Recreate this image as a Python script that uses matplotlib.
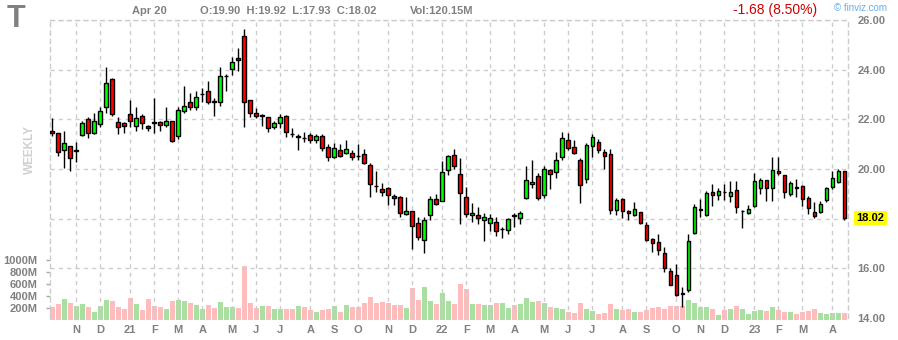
import matplotlib.pyplot as plt
import numpy as np

plt.rcParams['font.family'] = ['Liberation Sans', 'DejaVu Sans']

# weekly OHLC for T, Oct 2020 - Apr 2023
opens = [21.55, 21.43, 20.75, 20.91, 20.74, 21.35, 22.03, 21.45, 21.83, 22.51,
         23.63, 21.91, 21.87, 22.23, 21.75, 22.15, 21.75, 21.89, 21.91, 21.79,
         21.95, 21.31, 22.35, 22.71, 22.51, 23.01, 23.16, 22.72, 22.71, 23.74,
         24.03, 24.45, 25.35, 22.76, 22.27, 22.15, 22.11, 21.71, 21.87, 22.15,
         21.42, 21.29, 21.26, 21.35, 21.15, 21.32, 20.90, 20.50, 20.78, 20.66,
         20.66, 20.53, 20.62, 20.17, 19.33, 19.21, 19.25, 18.91, 18.89, 18.20,
         18.32, 17.84, 17.16, 18.16, 18.81, 18.72, 19.96, 20.58, 19.81, 18.89,
         18.16, 18.16, 17.96, 17.84, 17.88, 17.57, 17.56, 18.13, 18.04, 18.82,
         19.41, 19.73, 18.97, 19.97, 19.89, 20.50, 21.18, 20.90, 20.38, 19.61,
         20.94, 21.10, 20.70, 20.62, 18.36, 18.81, 18.32, 18.16, 18.28, 17.76,
         17.19, 17.07, 16.63, 15.91, 15.74, 14.99, 15.14, 17.42, 18.34, 18.16,
         19.09, 18.97, 19.09, 18.93, 19.17, 18.30, 18.24, 18.52, 19.25, 19.57,
         19.25, 19.93, 19.77, 19.01, 19.26, 19.33, 18.85, 18.28, 18.28, 18.76,
         19.29, 19.49, 19.90]
highs = [22.07, 21.43, 21.55, 20.91, 21.07, 21.93, 22.11, 22.27, 22.51, 24.12,
         23.68, 22.11, 21.91, 22.76, 22.51, 22.23, 21.79, 22.84, 21.95, 22.51,
         21.95, 22.51, 23.36, 23.08, 23.16, 23.28, 23.56, 22.84, 24.12, 23.84,
         24.51, 24.88, 25.63, 22.76, 22.44, 22.20, 22.11, 21.95, 22.23, 22.19,
         21.67, 21.39, 21.47, 21.43, 21.39, 21.40, 20.99, 21.06, 20.99, 21.15,
         20.77, 20.99, 20.79, 20.26, 19.91, 19.42, 19.29, 19.01, 18.91, 18.89,
         18.32, 18.08, 18.08, 18.91, 19.01, 20.31, 20.58, 20.79, 20.44, 19.29,
         18.64, 18.48, 18.24, 18.20, 18.08, 17.66, 18.04, 18.24, 18.32, 20.11,
         20.35, 19.85, 20.13, 20.01, 20.67, 21.50, 21.46, 21.18, 20.46, 21.06,
         21.41, 21.22, 20.82, 20.82, 18.85, 18.85, 18.36, 18.68, 18.28, 17.88,
         17.23, 17.40, 16.87, 16.03, 16.19, 15.26, 17.40, 18.60, 18.81, 19.13,
         19.41, 19.25, 19.41, 19.53, 19.53, 18.33, 18.56, 19.84, 19.65, 19.57,
         20.50, 20.50, 19.77, 19.53, 19.61, 19.37, 18.93, 18.68, 18.72, 19.29,
         19.93, 20.01, 19.92]
lows = [21.33, 20.51, 20.05, 19.93, 20.29, 21.31, 21.25, 21.41, 21.71, 22.24,
        22.13, 21.41, 21.45, 21.71, 21.55, 21.63, 21.55, 21.43, 21.55, 21.71,
        21.10, 21.19, 22.27, 22.37, 22.39, 22.69, 22.63, 22.13, 22.55, 23.15,
        23.79, 23.95, 21.71, 22.09, 22.05, 21.73, 21.49, 21.63, 21.67, 21.27,
        21.27, 20.77, 21.07, 21.03, 21.03, 20.72, 20.32, 20.46, 20.50, 20.59,
        20.36, 20.36, 20.21, 18.87, 19.07, 18.91, 18.54, 18.55, 18.08, 18.16,
        16.77, 17.14, 16.60, 17.95, 18.56, 18.72, 19.76, 20.01, 17.77, 18.08,
        17.88, 17.79, 17.10, 17.50, 17.32, 17.22, 17.40, 17.68, 17.79, 18.78,
        19.25, 18.77, 18.85, 19.21, 19.65, 20.38, 20.78, 20.62, 18.64, 19.45,
        20.50, 20.66, 20.01, 18.20, 18.16, 18.01, 17.96, 18.12, 17.80, 17.11,
        16.67, 16.55, 15.87, 15.34, 14.90, 14.46, 15.06, 17.38, 18.08, 18.12,
        18.51, 18.77, 18.77, 18.68, 18.24, 17.64, 18.20, 18.48, 19.01, 18.72,
        18.72, 19.77, 18.82, 18.93, 18.89, 18.52, 18.20, 18.04, 18.24, 18.68,
        19.21, 19.45, 17.93]
closes = [21.43, 20.67, 21.03, 20.43, 20.76, 21.87, 21.43, 21.95, 22.35, 23.48,
          22.23, 21.71, 21.75, 21.95, 22.07, 21.87, 21.67, 21.87, 21.79, 21.95,
          21.11, 22.39, 22.55, 22.51, 22.91, 23.03, 22.71, 22.70, 23.75, 23.76,
          24.31, 24.39, 22.71, 22.27, 22.13, 22.17, 21.67, 21.87, 22.11, 21.51,
          21.40, 21.31, 21.24, 21.15, 21.31, 20.86, 20.50, 20.86, 20.52, 20.82,
          20.50, 20.51, 20.26, 19.41, 19.31, 19.09, 18.95, 18.83, 18.23, 18.32,
          17.72, 17.28, 17.96, 18.81, 18.61, 19.88, 20.54, 20.13, 19.03, 18.20,
          18.24, 18.04, 18.08, 18.04, 17.50, 17.59, 18.00, 18.11, 18.24, 19.54,
          19.49, 18.85, 20.01, 19.81, 20.38, 21.26, 20.86, 20.66, 19.37, 20.98,
          21.30, 20.78, 20.54, 18.36, 18.77, 18.32, 18.24, 18.40, 17.84, 17.15,
          17.03, 16.75, 16.03, 15.34, 14.94, 14.97, 17.11, 18.48, 18.38, 19.05,
          18.97, 19.13, 19.07, 19.09, 18.48, 18.32, 18.40, 19.53, 19.57, 19.25,
          19.97, 19.85, 19.09, 19.45, 19.24, 18.81, 18.44, 18.12, 18.60, 19.25,
          19.65, 19.93, 18.02]
volumes = [222, 272, 356, 289, 239, 272, 222, 139, 239, 339,
           322, 222, 189, 372, 272, 172, 356, 239, 222, 189,
           322, 339, 322, 289, 256, 189, 256, 206, 306, 222,
           222, 206, 906, 289, 206, 239, 239, 189, 189, 189,
           189, 239, 222, 172, 139, 172, 189, 239, 139, 256,
           222, 222, 289, 389, 289, 306, 289, 256, 256, 206,
           539, 339, 556, 322, 272, 456, 322, 272, 606, 522,
           272, 272, 256, 256, 289, 289, 206, 256, 272, 372,
           306, 322, 289, 222, 206, 189, 139, 122, 289, 189,
           156, 106, 122, 272, 189, 172, 189, 139, 139, 172,
           206, 222, 189, 239, 239, 239, 339, 289, 222, 222,
           189, 89, 172, 189, 239, 189, 106, 156, 172, 156,
           222, 172, 139, 139, 106, 139, 156, 189, 122, 106,
           122, 122, 120.15]

month_pos = [4, 8, 13, 17, 21, 25, 30, 34, 38, 43, 47, 51, 56, 60, 65,
             69, 73, 77, 82, 86, 90, 95, 99, 104, 108, 112, 117, 121, 125, 130]
month_labels = ['N', 'D', '21', 'F', 'M', 'A', 'M', 'J', 'J', 'A', 'S', 'O', 'N', 'D', '22',
                'F', 'M', 'A', 'M', 'J', 'J', 'A', 'S', 'O', 'N', 'D', '23', 'F', 'M', 'A']
price_ticks = [14, 16, 18, 20, 22, 24, 26]
vol_ticks = [200, 400, 600, 800, 1000]

o = np.array(opens)
h = np.array(highs)
l = np.array(lows)
c = np.array(closes)
v = np.array(volumes)
x = np.arange(len(o))
up = c >= o

W, H = 898, 340
GRID = '#cccccc'
LBL = '#808080'
XLIM = (-0.38, 132.6)


def box(x0, y0, x1, y1):
    return [x0 / W, 1 - y1 / H, (x1 - x0) / W, (y1 - y0) / H]


fig = plt.figure(figsize=(W / 100, H / 100), dpi=100)

# volume panel, underneath the price panel
ax_vol = fig.add_axes(box(50, 220, 848, 320))
ax_vol.bar(x, v, width=0.84, color=np.where(up, '#a9dfa0', '#ffbcbc'), linewidth=0)
ax_vol.set_xlim(*XLIM)
ax_vol.set_ylim(0, 100 / 0.06)
ax_vol.set_xticks([])
ax_vol.set_yticks(vol_ticks)
ax_vol.set_yticklabels([f'{t}M' for t in vol_ticks])
ax_vol.tick_params(axis='y', length=3, width=1, color='#aaaaaa', pad=6,
                   labelsize=8, labelcolor=LBL)
for t in ax_vol.get_yticklabels():
    t.set_fontweight('bold')
for s in ax_vol.spines.values():
    s.set_visible(False)
ax_vol.patch.set_alpha(0)

# price panel
ax = fig.add_axes(box(50, 20, 848, 318))
ax.patch.set_alpha(0)
ax.vlines(x, l, h, color='black', lw=1, zorder=2)
ax.bar(x, np.abs(c - o), bottom=np.minimum(o, c), width=0.62,
       color=np.where(up, '#00ff00', '#ff0000'), edgecolor='black', linewidth=1, zorder=3)
ax.set_xlim(*XLIM)
ax.set_ylim(14, 26)

ax.set_xticks(month_pos)
ax.set_xticklabels(month_labels)
ax.set_yticks(price_ticks)
ax.set_yticklabels([f'{t:.2f}' for t in price_ticks])
ax.yaxis.tick_right()
ax.tick_params(axis='x', length=0, pad=5, labelsize=8, labelcolor=LBL)
ax.tick_params(axis='y', length=0, pad=7, labelsize=8, labelcolor=LBL)
for t in ax.get_xticklabels() + ax.get_yticklabels():
    t.set_fontweight('bold')

ax.grid(True, color=GRID, linestyle=(0, (3, 3)), lw=1, zorder=0)
ax.get_ygridlines()[0].set_visible(False)
ax.spines['bottom'].set_visible(False)
for side in ['left', 'right', 'top']:
    ax.spines[side].set_color(GRID)
    ax.spines[side].set_linestyle((0, (3, 3)))
    ax.spines[side].set_linewidth(1)

ax.annotate(f'{c[-1]:.2f}', xy=(1, c[-1]), xycoords=('axes fraction', 'data'),
            xytext=(6, 0), textcoords='offset points', ha='left', va='center',
            fontsize=8, fontweight='bold', color='black', annotation_clip=False,
            bbox=dict(boxstyle='square,pad=0.2', fc='#ffff00', ec='none'), zorder=5)

# header
fig.text(7 / W, 1 - 19 / H, 'T', fontsize=22, fontweight='bold', color=LBL, va='center')
fig.text(132 / W, 1 - 11 / H, 'Apr 20', fontsize=8, fontweight='bold', color=LBL, va='center')
fig.text(200 / W, 1 - 11 / H, 'O:19.90  H:19.92  L:17.93  C:18.02', fontsize=8,
         fontweight='bold', color=LBL, va='center')
fig.text(410 / W, 1 - 11 / H, 'Vol:120.15M', fontsize=8, fontweight='bold', color=LBL, va='center')
fig.text(733 / W, 1 - 10 / H, '-1.68 (8.50%)', fontsize=10, color='#cc0000', va='center')
fig.text(834 / W, 1 - 8 / H, '© finviz.com', fontsize=7, color='#6aaee0', va='center')
fig.text(30 / W, 1 - 150 / H, 'WEEKLY', fontsize=8.5, fontweight='bold', color='#d0d0d0',
         rotation=90, ha='center', va='center')

fig.savefig('out.png', dpi=100)
